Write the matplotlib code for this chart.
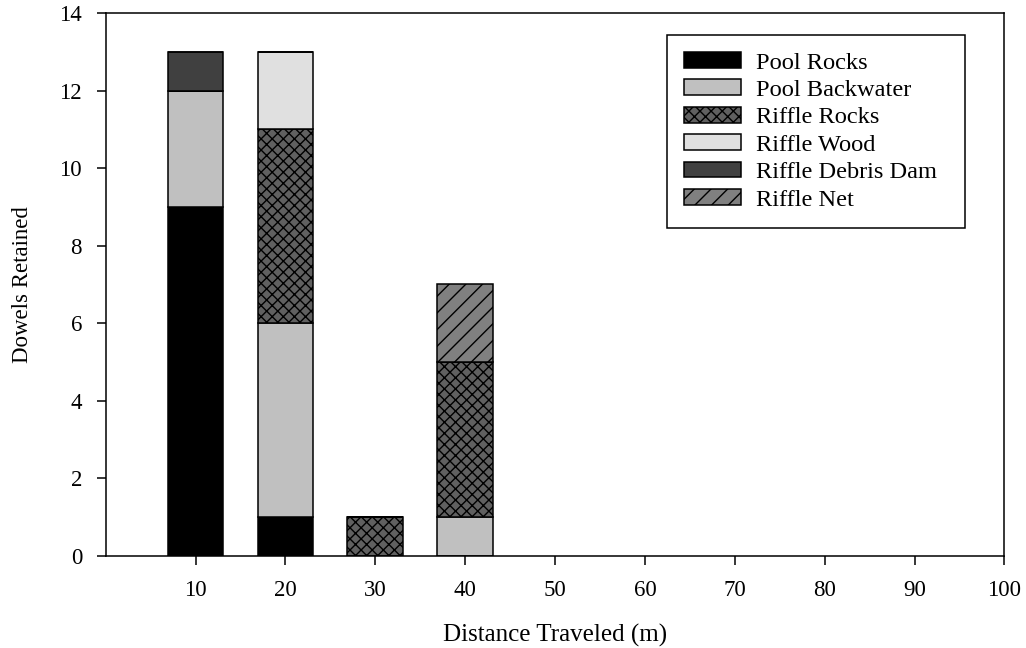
import matplotlib
matplotlib.use("Agg")
import matplotlib.pyplot as plt
from matplotlib.patches import Patch
import numpy as np

# distance bins (m) and dowels retained per habitat type
distances = [10, 20, 30, 40]
pool_rocks = [9, 1, 0, 0]
pool_backwater = [3, 5, 0, 1]
riffle_rocks = [0, 5, 1, 4]
riffle_wood = [0, 2, 0, 0]
riffle_debris_dam = [1, 0, 0, 0]
riffle_net = [0, 0, 0, 2]

x_ticks = [10, 20, 30, 40, 50, 60, 70, 80, 90, 100]
y_ticks = [0, 2, 4, 6, 8, 10, 12, 14]

series = [
    ("Pool Rocks", pool_rocks, "#000000", None),
    ("Pool Backwater", pool_backwater, "#c0c0c0", None),
    ("Riffle Rocks", riffle_rocks, "#606060", "xxx"),
    ("Riffle Wood", riffle_wood, "#e0e0e0", None),
    ("Riffle Debris Dam", riffle_debris_dam, "#404040", None),
    ("Riffle Net", riffle_net, "#808080", "//"),
]

plt.rcParams["font.family"] = ["Liberation Serif", "DejaVu Serif"]
plt.rcParams["hatch.linewidth"] = 1.0
plt.rcParams["hatch.color"] = "black"

fig = plt.figure(figsize=(10.26, 6.48), dpi=100)
ax = fig.add_axes([0.103, 0.142, 0.876, 0.838])

bottom = np.zeros(len(distances))
handles = []
for label, values, color, hatch in series:
    values = np.array(values, dtype=float)
    ax.bar(distances, values, width=6.2, bottom=bottom, color=color,
           edgecolor="black", linewidth=1.1, hatch=hatch, zorder=2)
    bottom += values
    handles.append(Patch(facecolor=color, edgecolor="black", linewidth=1.1,
                         hatch=hatch, label=label))

ax.set_xlim(0, 100)
ax.set_ylim(0, 14)
ax.set_xticks(x_ticks)
ax.set_yticks(y_ticks)
ax.tick_params(direction="out", length=6.5, width=1.1, labelsize=16.5, pad=10.5)
for spine in ax.spines.values():
    spine.set_linewidth(1.1)

ax.set_xlabel("Distance Traveled (m)", fontsize=18, labelpad=17)
ax.set_ylabel("Dowels Retained", fontsize=16.5)
ax.yaxis.set_label_coords(-0.081, 0.5)

# legend box stretched to the reference frame width, text left aligned
leg = ax.legend(handles=handles, loc="upper left", mode="expand",
                bbox_to_anchor=(0.6247, 0.5, 0.3318, 0.4595), borderaxespad=0,
                fontsize=17.6, fancybox=False, framealpha=1, edgecolor="black",
                handlelength=2.34, handleheight=0.62, handletextpad=0.6,
                labelspacing=0.24, borderpad=0.7)
leg.get_frame().set_linewidth(1.1)

fig.savefig("out.png", dpi=100)
